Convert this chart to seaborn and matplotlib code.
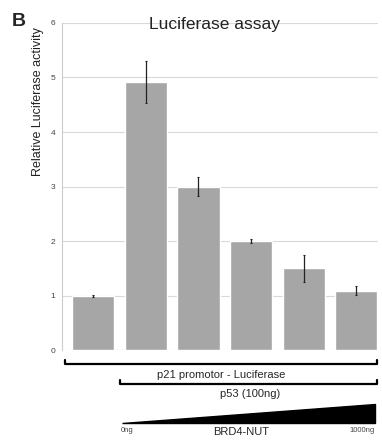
import pandas as pd
import matplotlib.pyplot as plt
import seaborn as sns
from matplotlib.patches import Polygon
from matplotlib.lines import Line2D

# values
conditions = ['c1', 'c2', 'c3', 'c4', 'c5', 'c6']
activity = [1.0, 4.92, 3.0, 2.0, 1.5, 1.09]
errors = [0.02, 0.39, 0.17, 0.03, 0.25, 0.08]
yticks = [0, 1, 2, 3, 4, 5, 6]

df = pd.DataFrame({'cond': conditions, 'act': activity})

sns.set_style('white')
plt.rcParams['font.family'] = ['Liberation Sans', 'DejaVu Sans']

fig = plt.figure(figsize=(3.82, 4.41), dpi=100)
ax = fig.add_axes([0.162, 0.206, 0.828, 0.742])

sns.barplot(data=df, x='cond', y='act', color='#a6a6a6', saturation=1,
            width=0.8, ax=ax, zorder=2)
ax.errorbar(range(len(activity)), activity, yerr=errors, fmt='none',
            ecolor='#222222', elinewidth=0.9, capsize=1, capthick=0.8, zorder=3)

ax.set_ylim(0, 6)
ax.set_xlim(-0.6, 5.42)
ax.set_yticks(yticks)
ax.set_yticklabels([str(t) for t in yticks], fontsize=6, color='#444444')
ax.set_xticks([])
ax.set_xlabel('')
ax.set_ylabel('Relative Luciferase activity', fontsize=9, color='#222222')
ax.yaxis.set_label_coords(-0.057, 0.76)
ax.tick_params(axis='y', length=2, width=0.6, color='#cccccc', pad=3)
ax.grid(axis='y', color='#d9d9d9', linewidth=0.8, zorder=0)
ax.set_axisbelow(True)
for s in ['top', 'right', 'bottom']:
    ax.spines[s].set_visible(False)
ax.spines['left'].set_color('#cccccc')
ax.spines['left'].set_linewidth(0.8)

W, H = 382, 441


def px(x, y):
    return (x / W, 1 - y / H)


fig.text(*px(215, 25), 'Luciferase assay', ha='center', va='center', fontsize=12.5, color='#222222')
fig.text(*px(12, 22), 'B', ha='left', va='center', fontsize=14, fontweight='bold')


def bracket(x0, x1, y, tick=4):
    xs = [x0, x0, x1, x1]
    ys = [y - tick, y, y, y - tick]
    pts = [px(a, b) for a, b in zip(xs, ys)]
    fig.add_artist(Line2D([p[0] for p in pts], [p[1] for p in pts],
                          color='black', linewidth=1.6, transform=fig.transFigure))


bracket(65, 377, 364)
fig.text(*px(221, 375), 'p21 promotor - Luciferase', ha='center', va='center', fontsize=8)
bracket(120, 377, 384)
fig.text(*px(250, 394), 'p53 (100ng)', ha='center', va='center', fontsize=8)

tri = Polygon([px(122, 423), px(375, 423), px(375, 404)], closed=True,
              facecolor='black', edgecolor='black', transform=fig.transFigure)
fig.add_artist(tri)
fig.text(*px(127, 430), '0ng', ha='center', va='center', fontsize=5.5, color='#444444')
fig.text(*px(362, 430), '1000ng', ha='center', va='center', fontsize=5.5, color='#444444')
fig.text(*px(241, 432), 'BRD4-NUT', ha='center', va='center', fontsize=8)

fig.savefig('out.png', dpi=100)
